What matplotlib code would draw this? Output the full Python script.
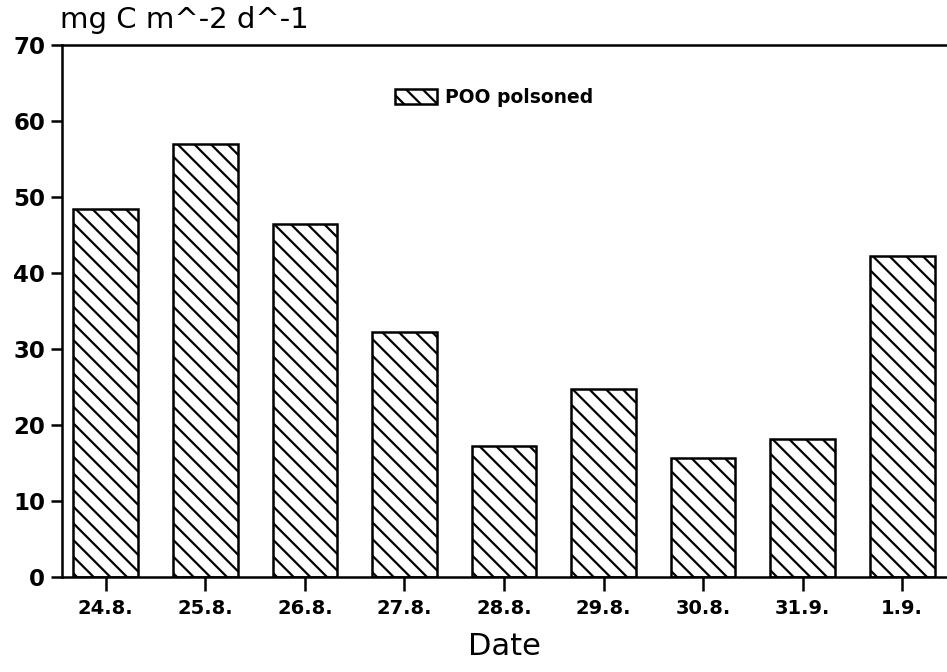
import matplotlib
matplotlib.use('Agg')
import matplotlib.pyplot as plt
import numpy as np

# 数据
dates = ['24.8.', '25.8.', '26.8.', '27.8.', '28.8.', '29.8.', '30.8.', '31.9.', '1.9.']
poc_poisoned = [48.4, 57.0, 46.5, 32.3, 17.2, 24.7, 15.6, 18.2, 42.3]

plt.rcParams['font.family'] = ['DejaVu Sans']
plt.rcParams['hatch.linewidth'] = 1.6

fig = plt.figure(figsize=(9.47, 6.72), dpi=100)
ax = fig.add_axes([62 / 947, 1 - 577 / 672, 1 - 62 / 947, (577 - 45) / 672])

x = np.arange(len(dates))
ax.bar(x, poc_poisoned, width=0.65, color='white', edgecolor='black',
       linewidth=1.8, hatch='\\\\', label='POO polsoned')

ax.set_xlim(-0.44, 8.45)
ax.set_ylim(0, 70)
ax.set_yticks(range(0, 71, 10))
ax.set_xticks(x)
ax.set_xticklabels(dates, fontsize=14, fontweight='bold')
for lab in ax.get_yticklabels():
    lab.set_fontsize(16.5)
    lab.set_fontweight('bold')

ax.tick_params(axis='y', direction='out', length=8, width=1.8, pad=4)
ax.tick_params(axis='x', direction='out', length=10, width=1.8, pad=6)

for s in ['left', 'bottom', 'top']:
    ax.spines[s].set_linewidth(1.8)
ax.spines['right'].set_visible(False)

ax.set_xlabel('Date', fontsize=22, labelpad=10)
fig.text(60 / 947, 1 - 20 / 672, 'mg C m^-2 d^-1', fontsize=21,
         ha='left', va='center')

leg = ax.legend(loc='upper left', bbox_to_anchor=((395 - 62) / 885, 1 - (88 - 45) / 532),
                frameon=False, prop={'size': 13.5, 'weight': 'bold'},
                borderpad=0, borderaxespad=0,
                handlelength=2.24, handleheight=0.9, handletextpad=0.43)

fig.savefig('out.png', dpi=100)
